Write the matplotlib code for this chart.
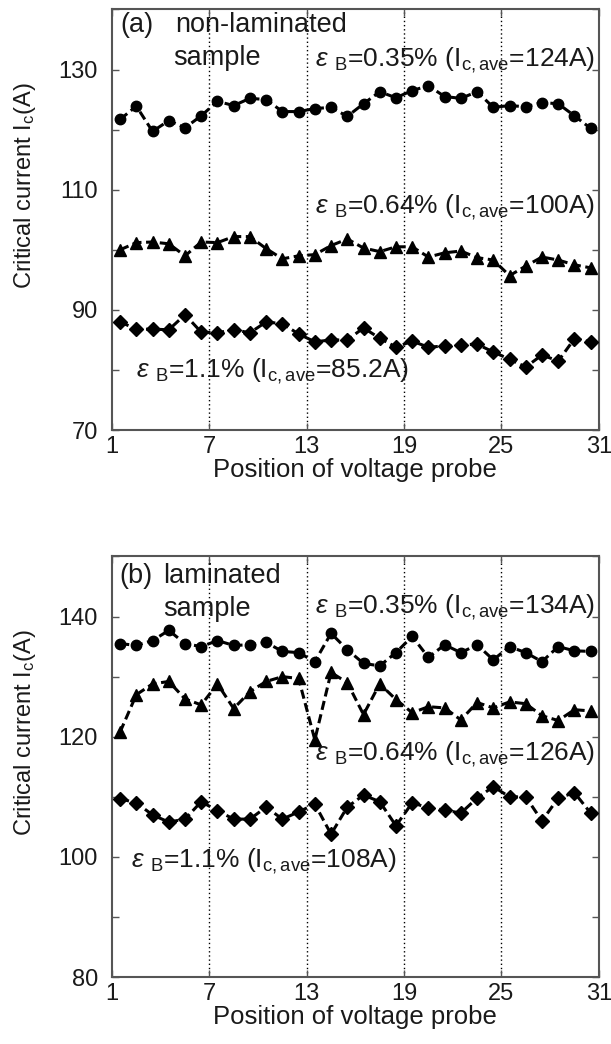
import matplotlib
matplotlib.use("Agg")
import matplotlib.pyplot as plt
import numpy as np

plt.rcParams['font.family'] = ['Liberation Sans', 'DejaVu Sans']
plt.rcParams['mathtext.fontset'] = 'custom'
plt.rcParams['mathtext.rm'] = 'Liberation Sans'
plt.rcParams['mathtext.it'] = 'Liberation Sans:italic'
plt.rcParams['mathtext.bf'] = 'Liberation Sans:bold'

# probe positions (points between neighbouring voltage taps)
positions = [i + 0.5 for i in range(1, 31)]

# Panel (a) non-laminated sample
a_035 = [121.7, 123.9, 119.7, 121.5, 120.3, 122.3, 124.7, 124.0, 125.2, 125.0,
         123.0, 123.0, 123.5, 123.7, 122.2, 124.3, 126.3, 125.3, 126.5, 127.3,
         125.5, 125.2, 126.3, 123.7, 124.0, 123.8, 124.5, 124.3, 122.3, 120.2]
a_064 = [100.0, 101.2, 101.3, 101.0, 99.0, 101.3, 101.2, 102.2, 102.2, 100.2,
         98.5, 99.0, 99.2, 100.7, 101.8, 100.3, 99.7, 100.5, 100.5, 98.8,
         99.5, 99.8, 98.7, 98.3, 95.7, 97.3, 98.8, 98.3, 97.5, 97.0]
a_110 = [88.0, 86.8, 86.8, 86.7, 89.2, 86.3, 86.2, 86.7, 86.2, 88.0,
         87.7, 86.0, 84.7, 85.0, 85.0, 87.0, 85.3, 83.8, 84.8, 83.8,
         84.0, 84.2, 84.3, 83.0, 81.8, 80.5, 82.5, 81.5, 85.2, 84.7]

# Panel (b) laminated sample
b_035 = [135.5, 135.2, 136.0, 137.7, 135.5, 135.0, 136.0, 135.2, 135.3, 135.7,
         134.2, 134.0, 132.5, 137.2, 134.5, 132.2, 131.8, 134.0, 136.7, 133.2,
         135.3, 134.0, 135.3, 132.8, 135.0, 134.0, 132.5, 135.0, 134.3, 134.2]
b_064 = [120.8, 127.0, 128.8, 129.2, 126.3, 125.3, 128.8, 124.7, 127.5, 129.2,
         130.0, 129.7, 119.5, 130.7, 129.0, 123.7, 128.8, 126.2, 124.0, 125.0,
         124.8, 122.8, 125.7, 124.8, 125.8, 125.5, 123.5, 122.7, 124.5, 124.3]
b_110 = [109.7, 109.0, 107.0, 105.8, 106.3, 109.2, 107.7, 106.3, 106.3, 108.3,
         106.3, 107.5, 108.8, 103.8, 108.3, 110.3, 109.2, 105.2, 109.0, 108.2,
         107.8, 107.3, 109.8, 111.7, 110.0, 110.0, 106.0, 109.8, 110.7, 107.3]

xticks = [1, 7, 13, 19, 25, 31]
vlines = [7, 13, 19, 25]

a_ylim = (70, 140)
a_yticks = [70, 80, 90, 100, 110, 120, 130, 140]
a_ylabels = ['70', '', '90', '', '110', '', '130', '']
b_ylim = (80, 150)
b_yticks = [80, 90, 100, 110, 120, 130, 140, 150]
b_ylabels = ['80', '', '100', '', '120', '', '140', '']

a_notes = [r"$\varepsilon$ $_{\rm B}$=0.35% (I$_{\rm c,ave}$=124A)",
           r"$\varepsilon$ $_{\rm B}$=0.64% (I$_{\rm c,ave}$=100A)",
           r"$\varepsilon$ $_{\rm B}$=1.1% (I$_{\rm c,ave}$=85.2A)"]
b_notes = [r"$\varepsilon$ $_{\rm B}$=0.35% (I$_{\rm c,ave}$=134A)",
           r"$\varepsilon$ $_{\rm B}$=0.64% (I$_{\rm c,ave}$=126A)",
           r"$\varepsilon$ $_{\rm B}$=1.1% (I$_{\rm c,ave}$=108A)"]

fig = plt.figure(figsize=(6.11, 10.44), dpi=100)
ax1 = fig.add_axes([0.1833, 0.588, 0.7967, 0.403])
ax2 = fig.add_axes([0.1833, 0.064, 0.7967, 0.403])

spine_col = '#555555'
txt_col = '#1a1a1a'

def style(ax, ylim, yticks, ylabels):
    ax.set_xlim(1, 31)
    ax.set_ylim(*ylim)
    ax.set_xticks(xticks)
    ax.set_xticklabels([str(t) for t in xticks])
    ax.set_yticks(yticks)
    ax.set_yticklabels(ylabels)
    ax.tick_params(direction='in', top=True, right=True, length=5, width=1,
                   labelsize=17, colors=spine_col, labelcolor=txt_col)
    ax.tick_params(axis='y', pad=10)
    ax.tick_params(axis='x', pad=4)
    for s in ax.spines.values():
        s.set_color(spine_col)
        s.set_linewidth(1.5)
    for v in vlines:
        ax.axvline(v, color='black', linestyle=(0, (1, 2)), linewidth=1.0, zorder=1)
    ax.set_xlabel('Position of voltage probe', fontsize=18.5, color=txt_col, labelpad=0)
    ax.set_ylabel(r'Critical current I$_{\rm c}$(A)', fontsize=17, color=txt_col)
    ax.yaxis.set_label_coords(-0.152, 0.58)

def draw(ax, s1, s2, s3):
    kw = dict(color='black', linestyle=(0, (3, 1.5)), linewidth=2.2, zorder=3)
    ax.plot(positions, s1, marker='o', markersize=7.5, **kw)
    ax.plot(positions, s2, marker='^', markersize=8.5, **kw)
    ax.plot(positions, s3, marker='D', markersize=7, **kw)

style(ax1, a_ylim, a_yticks, a_ylabels)
draw(ax1, a_035, a_064, a_110)
style(ax2, b_ylim, b_yticks, b_ylabels)
draw(ax2, b_035, b_064, b_110)

fs = 19
pfs = 19.5
ax1.text(1.49, 139.5, '(a)', fontsize=pfs, color=txt_col, ha='left', va='top')
ax1.text(4.88, 139.5, 'non-laminated', fontsize=pfs, color=txt_col, ha='left', va='top')
ax1.text(4.76, 134.1, 'sample', fontsize=pfs, color=txt_col, ha='left', va='top')
ax1.text(30.75, 131.5, a_notes[0], fontsize=fs, color=txt_col, ha='right', va='center')
ax1.text(30.75, 107.0, a_notes[1], fontsize=fs, color=txt_col, ha='right', va='center')
ax1.text(2.5, 79.8, a_notes[2], fontsize=fs, color=txt_col, ha='left', va='center')

ax2.text(1.43, 148.9, '(b)', fontsize=pfs, color=txt_col, ha='left', va='top')
ax2.text(4.14, 148.9, 'laminated', fontsize=pfs, color=txt_col, ha='left', va='top')
ax2.text(4.14, 143.5, 'sample', fontsize=pfs, color=txt_col, ha='left', va='top')
ax2.text(30.75, 141.5, b_notes[0], fontsize=fs, color=txt_col, ha='right', va='center')
ax2.text(30.75, 117.1, b_notes[1], fontsize=fs, color=txt_col, ha='right', va='center')
ax2.text(2.2, 99.3, b_notes[2], fontsize=fs, color=txt_col, ha='left', va='center')

fig.savefig('out.png', dpi=100)
